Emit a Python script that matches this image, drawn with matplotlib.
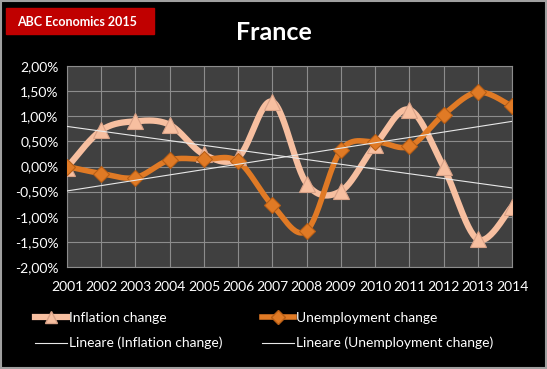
import matplotlib.pyplot as plt
import matplotlib.patches as mpatches
from matplotlib.ticker import FuncFormatter
import numpy as np

plt.rcParams['font.family'] = ['Lato', 'DejaVu Sans']

# dati
years = list(range(2001, 2015))
inflation = [-0.02, 0.72, 0.90, 0.83, 0.24, 0.18, 1.29, -0.34, -0.49, 0.42, 1.13, -0.01, -1.45, -0.80]
unemployment = [0.00, -0.14, -0.22, 0.13, 0.14, 0.10, -0.77, -1.28, 0.32, 0.49, 0.40, 1.03, 1.48, 1.20]

col_inf = '#F7BFA0'
col_une = '#E07A25'


def smooth(x, y, n=30):
    # curva "smussata" tipo Excel (Bezier con tangenti Catmull-Rom)
    p = np.column_stack([x, y]).astype(float)
    out = []
    for i in range(len(p) - 1):
        p0 = p[i - 1] if i > 0 else p[i]
        p1 = p[i]
        p2 = p[i + 1]
        p3 = p[i + 2] if i + 2 < len(p) else p[i + 1]
        c1 = p1 + (p2 - p0) / 6
        c2 = p2 - (p3 - p1) / 6
        t = np.linspace(0, 1, n)[:, None]
        b = (1 - t) ** 3 * p1 + 3 * (1 - t) ** 2 * t * c1 + 3 * (1 - t) * t ** 2 * c2 + t ** 3 * p2
        out.append(b if i == 0 else b[1:])
    out = np.vstack(out)
    return out[:, 0], out[:, 1]


fig = plt.figure(figsize=(5.47, 3.69), dpi=100, facecolor='black')
ax = fig.add_axes([67 / 547, 1 - 267 / 369, 445 / 547, 201 / 369])
ax.set_facecolor('#404040')

x = np.array(years)
xs, ys = smooth(x, inflation)
ax.plot(xs, ys, color=col_inf, lw=4.5, solid_capstyle='round', zorder=3)
ax.plot(x, inflation, ls='none', marker='^', ms=11, color=col_inf,
        markeredgecolor='#D9A287', markeredgewidth=0.8, zorder=4)

xs, ys = smooth(x, unemployment)
ax.plot(xs, ys, color=col_une, lw=4, solid_capstyle='round', zorder=3)
ax.plot(x, unemployment, ls='none', marker='D', ms=8.5, color=col_une,
        markeredgecolor='#B85E15', markeredgewidth=0.8, zorder=4)

# linee di tendenza
for serie in (inflation, unemployment):
    k, q = np.polyfit(x, serie, 1)
    ax.plot(x, k * x + q, color='#E8E8E8', lw=0.8, zorder=5)

ax.set_xlim(2001, 2014)
ax.set_ylim(-2, 2)
ax.set_xticks(years)
ax.set_yticks(np.arange(-2, 2.01, 0.5))
ax.yaxis.set_major_formatter(FuncFormatter(lambda v, p: ('%.2f%%' % v).replace('.', ',')))
ax.grid(True, color='#8C8C8C', lw=0.8)
ax.set_axisbelow(True)
for s in ax.spines.values():
    s.set_color('#8C8C8C')
    s.set_linewidth(0.8)
ax.tick_params(length=0, colors='white', labelsize=10)
ax.tick_params(axis='x', pad=10)
ax.tick_params(axis='y', pad=6)

# titolo e riquadro rosso
fig.text(0.5, 1 - 33 / 369, 'France', color='white', fontsize=18, fontweight='bold',
         ha='center', va='center')
fig.patches.append(mpatches.Rectangle((6 / 547, 1 - 34 / 369), 148 / 547, 26 / 369,
                                      transform=fig.transFigure, color='#C00000'))
fig.text(77 / 547, 1 - 22 / 369, 'ABC Economics 2015', color='white', fontsize=9,
         fontweight='bold', ha='center', va='center')
fig.patches.append(mpatches.Rectangle((0.001, 0.002), 0.997, 0.995, transform=fig.transFigure,
                                      fill=False, edgecolor='#A0A0A0', lw=1.5))

# legenda (due colonne)
h1 = plt.Line2D([], [], color=col_inf, lw=4.5, marker='^', ms=9, markeredgecolor='#D9A287')
h2 = plt.Line2D([], [], color=col_une, lw=4, marker='D', ms=7, markeredgecolor='#B85E15')
h3 = plt.Line2D([], [], color='#E8E8E8', lw=0.8)
h4 = plt.Line2D([], [], color='#E8E8E8', lw=0.8)
cols = [([h1, h3], ['Inflation change', 'Lineare (Inflation change)'], 35),
        ([h2, h4], ['Unemployment change', 'Lineare (Unemployment change)'], 262)]
for handles, labels, xpos in cols:
    leg = fig.legend(handles, labels, loc='center left',
                     bbox_to_anchor=(xpos / 547, 1 - 330.5 / 369), frameon=False,
                     fontsize=10, handlelength=2.3, handletextpad=0.15,
                     labelspacing=0.95, borderpad=0, borderaxespad=0)
    for t in leg.get_texts():
        t.set_color('white')

plt.savefig('out.png', dpi=100, facecolor='black')
